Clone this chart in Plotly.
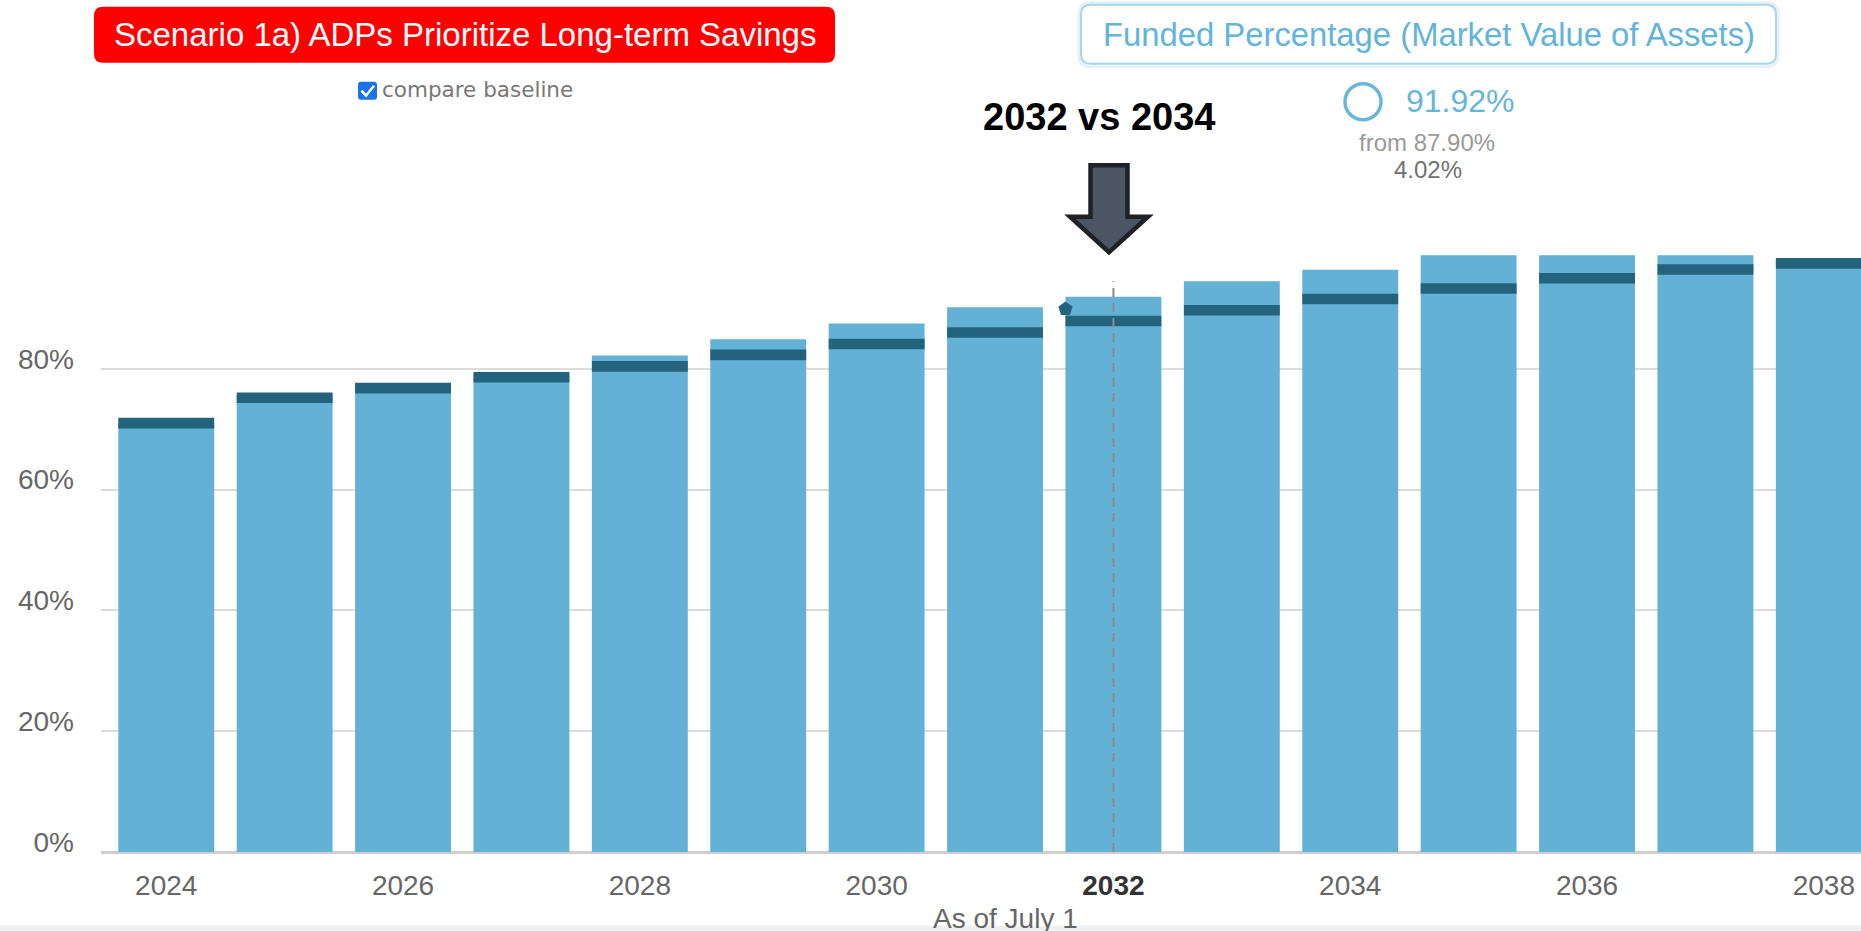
import plotly.graph_objects as go

# ---------------- data ----------------
years = [2024, 2025, 2026, 2027, 2028, 2029, 2030, 2031, 2032, 2033, 2034, 2035, 2036, 2037, 2038]
scenario = [71.0, 75.6, 77.2, 79.0, 82.2, 84.9, 87.5, 90.2, 91.92, 94.5, 96.4, 98.8, 98.8, 98.8, 98.3]
baseline = [71.0, 75.2, 76.8, 78.6, 80.4, 82.3, 84.1, 86.0, 87.90, 89.7, 91.55, 93.3, 95.0, 96.45, 97.45]
x_tick_years = [2024, 2026, 2028, 2030, 2032, 2034, 2036, 2038]
x_tick_labels = ["2024", "2026", "2028", "2030", "2032", "2034", "2036", "2038"]
y_tick_vals = [0, 20, 40, 60, 80]
y_tick_labels = ["0%", "20%", "40%", "60%", "80%"]
highlight_year = 2032
compare_year = 2034
title_text = "Scenario 1a) ADPs Prioritize Long-term Savings"
metric_title = "Funded Percentage (Market Value of Assets)"
metric_value = "91.92%"
metric_from = "from 87.90%"
metric_delta = "4.02%"
callout_text = "2032 vs 2034"
checkbox_text = "compare baseline"
x_axis_title = "As of July 1"

# ---------------- style ----------------
LIGHT = "#63B2D5"
DARK = "#23637D"
FONT = "Liberation Sans, Arial, sans-serif"
BAND = 1.75          # thickness of the baseline band (in % units)
BAR_W = 0.81
CROSS_TOP = 94.5

W_PX, H_PX = 1861, 931
L_PX, R_PX, T_PX, B_PX = 101, 1861, 251.3, 852.2


def px(x):
    return (x - L_PX) / (R_PX - L_PX)


def py(y):
    return (B_PX - y) / (B_PX - T_PX)


def rrect(x0, y0, x1, y1, r):
    pts = [
        ("M", [(x0 + r, y0)]), ("L", [(x1 - r, y0)]), ("Q", [(x1, y0), (x1, y0 + r)]),
        ("L", [(x1, y1 - r)]), ("Q", [(x1, y1), (x1 - r, y1)]), ("L", [(x0 + r, y1)]),
        ("Q", [(x0, y1), (x0, y1 - r)]), ("L", [(x0, y0 + r)]), ("Q", [(x0, y0), (x0 + r, y0)]),
    ]
    s = ""
    for cmd, pp in pts:
        s += cmd + " " + " ".join(f"{px(a):.5f},{py(b):.5f}" for a, b in pp) + " "
    return s + "Z"


def poly(points):
    s = "M " + " L ".join(f"{px(a):.5f},{py(b):.5f}" for a, b in points)
    return s + " Z"


fig = go.Figure()
fig.add_trace(go.Bar(x=years, y=scenario, width=BAR_W, marker=dict(color=LIGHT, line=dict(width=0)),
                     name="Scenario", hoverinfo="x+y"))
fig.add_trace(go.Bar(x=years, y=[BAND] * len(years), base=[b - BAND / 2 for b in baseline], width=BAR_W,
                     marker=dict(color=DARK, line=dict(width=0)), name="Baseline", hoverinfo="skip"))
hi = years.index(highlight_year)
fig.add_trace(go.Scatter(x=[highlight_year - BAR_W / 2], y=[baseline[hi] + 2.0], mode="markers",
                         marker=dict(symbol="pentagon", size=15, color=DARK), hoverinfo="skip"))

tick_text = []
for y, t in zip(x_tick_years, x_tick_labels):
    if y == highlight_year:
        tick_text.append(f"<span style='color:#333333'><b>{t}</b></span>")
    else:
        tick_text.append(t)

shapes = []
# crosshair
shapes.append(dict(type="line", xref="x", yref="y", x0=highlight_year, x1=highlight_year, y0=0, y1=CROSS_TOP,
                   line=dict(color="#8a8a8a", width=2, dash="9px,6px"), layer="above"))
# red title button
shapes.append(dict(type="path", xref="paper", yref="paper", path=rrect(94, 7, 835, 63, 9),
                   fillcolor="#FF0000", line=dict(width=0)))
# funded box (shadow + box)
shapes.append(dict(type="path", xref="paper", yref="paper", path=rrect(1079, 3, 1778, 67, 12),
                   fillcolor="rgba(0,0,0,0)", line=dict(color="rgba(180,215,230,0.35)", width=3)))
shapes.append(dict(type="path", xref="paper", yref="paper", path=rrect(1081, 5, 1776, 64, 10),
                   fillcolor="white", line=dict(color="#a9d6ea", width=2)))
# circle
shapes.append(dict(type="circle", xref="paper", yref="paper", x0=px(1345), x1=px(1381), y0=py(120), y1=py(84),
                   line=dict(color="#68b7da", width=3.5)))
# arrow
shapes.append(dict(type="path", xref="paper", yref="paper",
                   path=poly([(1090.5, 165.5), (1127.5, 165.5), (1127.5, 217), (1148, 217), (1109, 252.5),
                              (1070, 217), (1090.5, 217)]),
                   fillcolor="#4B5563", line=dict(color="#1E2227", width=4.5)))
# checkbox
shapes.append(dict(type="path", xref="paper", yref="paper", path=rrect(358, 82, 377, 100, 3),
                   fillcolor="#1A73E8", line=dict(width=0)))
shapes.append(dict(type="path", xref="paper", yref="paper",
                   path="M " + " L ".join(f"{px(a):.5f},{py(b):.5f}" for a, b in [(361.5, 91), (366, 96), (374, 86)]),
                   line=dict(color="white", width=2.5)))
# bottom strip
shapes.append(dict(type="rect", xref="paper", yref="paper", x0=px(0), x1=px(W_PX), y0=py(931), y1=py(926),
                   fillcolor="#F0F0F0", line=dict(width=0)))

annotations = [
    dict(text=title_text, x=px(464.5), y=py(35), xref="paper", yref="paper", showarrow=False,
         xanchor="center", yanchor="middle", font=dict(family=FONT, size=33, color="white")),
    dict(text=metric_title, x=px(1428.5), y=py(35), xref="paper", yref="paper", showarrow=False,
         xanchor="center", yanchor="middle", font=dict(family=FONT, size=32.8, color="#62b4da")),
    dict(text=metric_value, x=px(1404), y=py(101), xref="paper", yref="paper", showarrow=False,
         xanchor="left", yanchor="middle", font=dict(family=FONT, size=32, color="#66b6da")),
    dict(text=metric_from, x=px(1426.5), y=py(143), xref="paper", yref="paper", showarrow=False,
         xanchor="center", yanchor="middle", font=dict(family=FONT, size=24, color="#9a9a9a")),
    dict(text=metric_delta, x=px(1427.5), y=py(170), xref="paper", yref="paper", showarrow=False,
         xanchor="center", yanchor="middle", font=dict(family=FONT, size=24, color="#707070")),
    dict(text=f"<b>{callout_text}</b>", x=px(1099), y=py(117), xref="paper", yref="paper", showarrow=False,
         xanchor="center", yanchor="middle", font=dict(family=FONT, size=38, color="black")),
    dict(text=checkbox_text, x=px(380), y=py(90), xref="paper", yref="paper", showarrow=False,
         xanchor="left", yanchor="middle", font=dict(family="DejaVu Sans, sans-serif", size=21.5, color="#777777")),
    dict(text=x_axis_title, x=px(1006), y=py(901), xref="paper", yref="paper", showarrow=False,
         xanchor="center", yanchor="top", font=dict(family=FONT, size=28, color="#666666")),
]

fig.update_layout(
    width=W_PX, height=H_PX,
    margin=dict(l=L_PX, r=W_PX - R_PX, t=T_PX, b=H_PX - B_PX, pad=0),
    paper_bgcolor="white", plot_bgcolor="white",
    barmode="overlay", showlegend=False, bargap=0.19,
    font=dict(family=FONT, color="#666666"),
    shapes=shapes, annotations=annotations,
    xaxis=dict(range=[2023.449, 2038.314], tickvals=x_tick_years, ticktext=tick_text,
               tickfont=dict(family=FONT, size=28, color="#666666"), showgrid=False, zeroline=False,
               showline=False, ticks="", ticklabelstandoff=14, fixedrange=True),
    yaxis=dict(range=[0, 99.5], tickvals=y_tick_vals, ticktext=y_tick_labels,
               tickfont=dict(family=FONT, size=28, color="#666666"), showgrid=True, gridcolor="#dcdcdc",
               gridwidth=1.5, zeroline=True, zerolinecolor="#cfcfcf", zerolinewidth=3,
               ticks="", ticklabelposition="outside", ticklabelshift=-10, ticklabelstandoff=26,
               fixedrange=True),
)

fig.write_html("out.html", config={"displayModeBar": False},
               post_script="document.body.style.margin='0px';")
